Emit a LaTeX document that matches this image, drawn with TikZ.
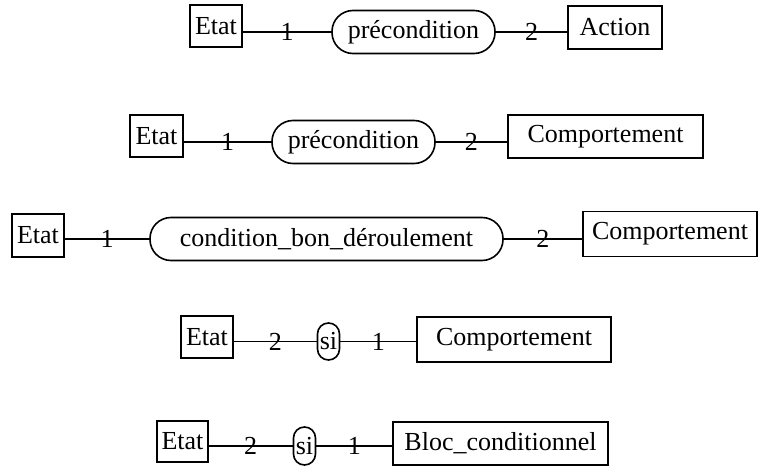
\documentclass[tikz,border=0pt]{standalone}
\usepackage{fontspec}
\setmainfont{Liberation Serif}

\begin{document}
\begin{tikzpicture}[x=0.5pt,y=-0.5pt,line width=0.8pt,
  every node/.style={font=\fontsize{13}{15}\selectfont},
  box/.style={draw,rectangle,inner sep=0pt,minimum height=21pt},
  cond/.style={draw,rectangle,rounded corners=10.5pt,inner sep=0pt,minimum height=21.5pt},
  si/.style={draw,rectangle,rounded corners=5.5pt,inner sep=0pt,minimum width=11pt,minimum height=18.5pt},
  num/.style={midway,inner sep=0pt}]
\useasboundingbox (0,0) rectangle (768,466);

% etat -- precondition -- action
\node[box,minimum width=26pt] (etatA) at (216,26) {Etat};
\node[cond,minimum width=81.5pt] (precA) at (413.5,32) {précondition};
\node[box,minimum width=47pt,minimum height=21.5pt] (action) at (615,27.5) {Action};
\draw (etatA.east |- precA.west) -- node[num]{1} (precA.west);
\draw (precA.east) -- node[num]{2} (precA.east -| action.west);

% etat -- precondition -- comportement
\node[box,minimum width=26.5pt] (etatB) at (156.5,136) {Etat};
\node[cond,minimum width=81.5pt] (precB) at (353.5,142) {précondition};
\node[box,minimum width=97.5pt,minimum height=21.5pt] (compB) at (605.5,136.5) {Comportement};
\draw (etatB.east |- precB.west) -- node[num]{1} (precB.west);
\draw (precB.east) -- node[num]{2} (precB.east -| compB.west);

% etat -- condition de bon deroulement -- comportement
\node[box,minimum width=26pt,minimum height=21.5pt] (etatC) at (38,235.5) {Etat};
\node[cond,minimum width=176.5pt] (condC) at (326.5,239) {condition\_bon\_déroulement};
\node[box,minimum width=87pt,minimum height=22.5pt] (compC) at (670,234) {Comportement};
\draw (etatC.east |- condC.west) -- node[num]{1} (condC.west);
\draw (condC.east) -- node[num]{2} (condC.east -| compC.west);

% etat -- si -- comportement
\node[box,minimum width=26pt] (etatD) at (207,337) {Etat};
\node[si] (siD) at (328.5,341.5) {si};
\node[box,minimum width=97pt,minimum height=22.5pt] (compD) at (514,339.5) {Comportement};
\draw (etatD.east |- siD.west) -- node[num]{2} (siD.west);
\draw (siD.east) -- node[num]{1} (siD.east -| compD.west);

% etat -- si -- bloc conditionnel
\node[box,minimum width=25.5pt,minimum height=20.5pt] (etatE) at (182.5,441.5) {Etat};
\node[si,minimum height=19pt] (siE) at (304.5,446) {si};
\node[box,minimum width=107.5pt,minimum height=21.5pt] (bloc) at (500.5,443.5) {Bloc\_conditionnel};
\draw (etatE.east |- siE.west) -- node[num]{2} (siE.west);
\draw (siE.east) -- node[num]{1} (siE.east -| bloc.west);
\end{tikzpicture}
\end{document}
